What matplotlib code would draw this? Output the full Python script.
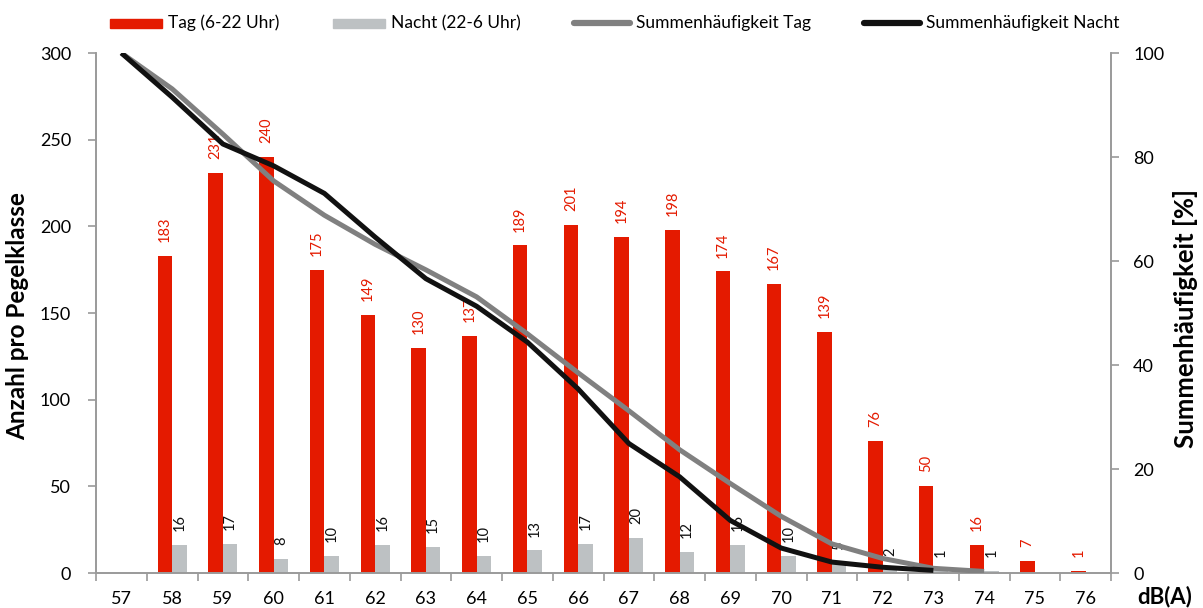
import matplotlib
matplotlib.use("Agg")
import matplotlib.pyplot as plt
import numpy as np
from matplotlib.lines import Line2D
from matplotlib.patches import Rectangle

plt.rcParams['font.family'] = ['Lato', 'DejaVu Sans']

categories = [str(v) for v in range(57, 77)]
tag = [0, 183, 231, 240, 175, 149, 130, 137, 189, 201, 194, 198, 174, 167, 139, 76, 50, 16, 7, 1]
nacht = [0, 16, 17, 8, 10, 16, 15, 10, 13, 17, 20, 12, 16, 10, 5, 2, 1, 1, 0, 0]
sum_tag = [100, 93.1, 84.4, 75.4, 68.8, 63.2, 58.3, 53.1, 46.0, 38.5, 31.2, 23.7, 17.2, 10.9, 5.6, 2.8, 0.9, 0.3]
sum_nacht = [100, 91.5, 82.5, 78.3, 73.0, 64.6, 56.6, 51.3, 44.4, 35.4, 24.9, 18.5, 10.1, 4.8, 2.1, 1.1, 0.5]
legend_labels = ['Tag (6-22 Uhr)', 'Nacht (22-6 Uhr)', 'Summenhäufigkeit Tag', 'Summenhäufigkeit Nacht']

RED = '#E41A00'
GRAY_BAR = '#BDC1C3'
GRAY_LINE = '#808080'
BLACK = '#111111'
AXC = '#9A9A9A'

W, H = 1203, 608
fig = plt.figure(figsize=(W / 100, H / 100), dpi=100)
ax = fig.add_axes([96 / W, 35 / H, (1111 - 96) / W, (573 - 53) / H])
ax2 = ax.twinx()

x = np.arange(len(categories))
w = 0.285
ax.bar(x - w / 2, tag, width=w, color=RED, zorder=2)
ax.bar(x + w / 2, nacht, width=w, color=GRAY_BAR, zorder=2)

for xi, v in zip(x, tag):
    if v > 0:
        ax.annotate(str(v), (xi - w / 2, v), xytext=(0, 10), textcoords='offset points',
                    rotation=90, ha='center', va='bottom', color=RED, fontsize=10.5)
for xi, v in zip(x, nacht):
    if v > 0:
        ax.annotate(str(v), (xi + w / 2, v), xytext=(0, 10), textcoords='offset points',
                    rotation=90, ha='center', va='bottom', color=BLACK, fontsize=10.5)

ax2.plot(np.arange(len(sum_tag)), sum_tag, color=GRAY_LINE, lw=3.6, solid_capstyle='butt', zorder=3)
ax2.plot(np.arange(len(sum_nacht)), sum_nacht, color=BLACK, lw=3.6, solid_capstyle='butt', zorder=4)

ax.set_xlim(-0.5, len(categories) - 0.5)
ax.set_ylim(0, 300)
ax2.set_ylim(0, 100)
ax.set_yticks(range(0, 301, 50))
ax2.set_yticks(range(0, 101, 20))
ax.set_xticks(x)
ax.set_xticklabels(categories, fontsize=13)
ax.set_xticks(np.arange(-0.5, len(categories)), minor=True)
ax.tick_params(axis='x', which='major', length=0, pad=13)
ax.tick_params(axis='x', which='minor', length=6, color=AXC, width=1.2)
ax.tick_params(axis='y', length=6, color=AXC, width=1.2, labelsize=13, pad=12)
ax2.tick_params(axis='y', length=6, color=AXC, width=1.2, labelsize=13, pad=10)

for a in (ax, ax2):
    a.spines['top'].set_visible(False)
    for s in ('left', 'right', 'bottom'):
        a.spines[s].set_color(AXC)
        a.spines[s].set_linewidth(1.2)

fig.text(18 / W, 1 - 316 / H, 'Anzahl pro Pegelklasse', fontsize=17.5, fontweight='bold',
         rotation=90, ha='center', va='center')
fig.text(1186 / W, 1 - 319 / H, 'Summenhäufigkeit [%]', fontsize=18.5, fontweight='bold',
         rotation=90, ha='center', va='center')
fig.text(1165 / W, 1 - 597 / H, 'dB(A)', fontsize=16, fontweight='bold', ha='center', va='center')

# legend (manual placement)
ly = 1 - 23 / H
handle_x = [(110, 162), (333, 385), (574, 630), (864, 920)]
for i, ((x0, x1), lab) in enumerate(zip(handle_x, legend_labels)):
    if i < 2:
        fig.add_artist(Rectangle((x0 / W, ly - 4.5 / H), (x1 - x0) / W, 9 / H,
                                 transform=fig.transFigure, color=[RED, GRAY_BAR][i]))
    else:
        fig.add_artist(Line2D([x0 / W, x1 / W], [ly, ly], transform=fig.transFigure,
                              color=[GRAY_LINE, BLACK][i - 2], lw=4.5, solid_capstyle='round'))
    fig.text((x1 + 6) / W, ly, lab, fontsize=12.5, ha='left', va='center')

fig.savefig('out.png', dpi=100)
